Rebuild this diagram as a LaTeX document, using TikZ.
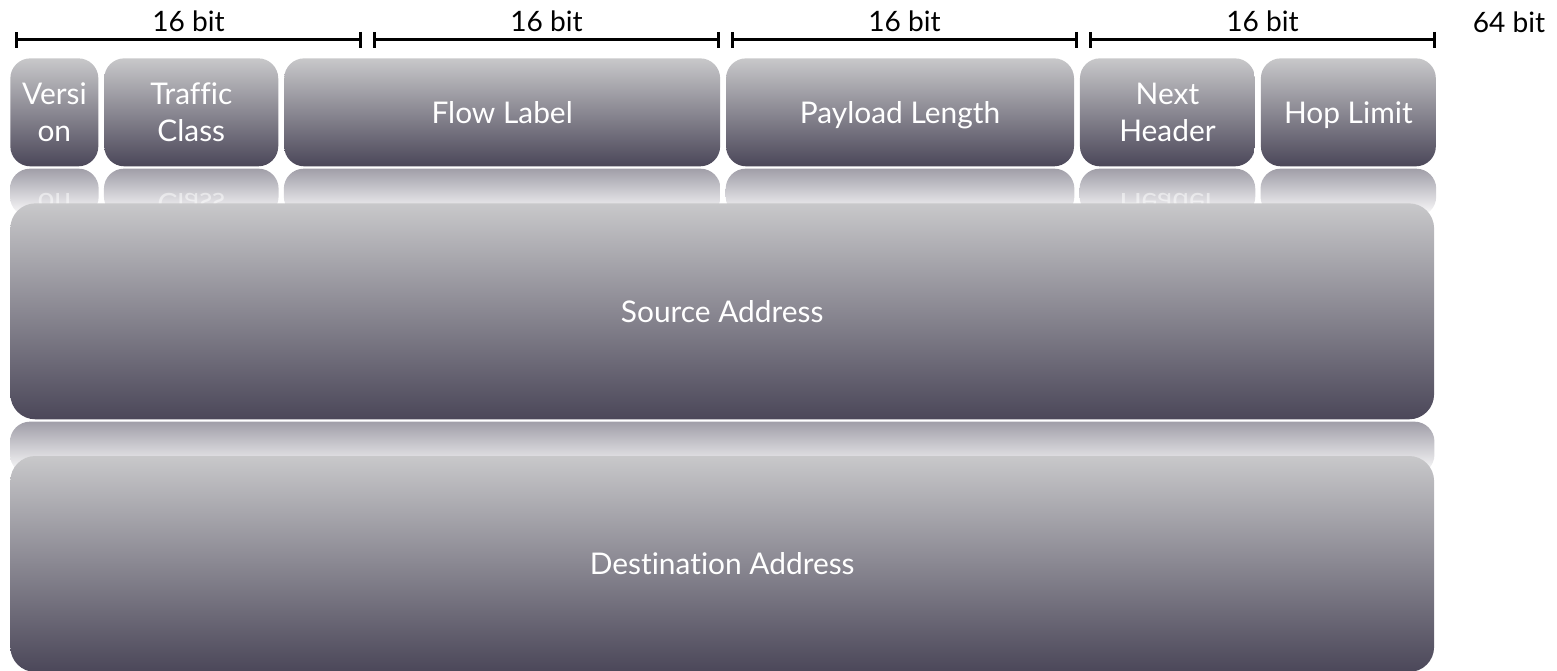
\documentclass[tikz,border=0pt]{standalone}
\usepackage{fontspec}
\setmainfont{Lato}[Ligatures=NoCommon]
\usetikzlibrary{positioning,arrows.meta}
\definecolor{fieldtop}{HTML}{C8C8CA}
\definecolor{fieldbot}{HTML}{4B4759}
\definecolor{refltop}{HTML}{A09EA8}

\begin{document}
\begin{tikzpicture}[
    x=0.02cm,y=-0.02cm,
    node distance=0.105cm,
    field/.style={rectangle,rounded corners=0.4cm,top color=fieldtop,bottom color=fieldbot,minimum height=2.16cm,inner sep=0pt,text=white,font=\fontsize{17}{21}\selectfont,align=center},
    refl/.style={rounded corners=0.4cm,top color=refltop,bottom color=white},
    mirror/.style={text=white,opacity=0.5,yscale=-1,transform shape,font=\fontsize{17}{21}\selectfont,align=center},
    ruler/.style={{Bar[width=0.32cm]}-{Bar[width=0.32cm]},line width=0.06cm},
    bits/.style={font=\fontsize{16}{18}\selectfont,inner sep=1pt}
]
\useasboundingbox (0,0) rectangle (1557,671);

% bit rulers
\coordinate (r0a) at (15,40);   \coordinate (r0b) at (362,40);
\coordinate (r1a) at (373,40);  \coordinate (r1b) at (720,40);
\coordinate (r2a) at (731,40);  \coordinate (r2b) at (1078,40);
\coordinate (r3a) at (1089,40); \coordinate (r3b) at (1436,40);
\draw[ruler] (r0a) -- node[bits,above=3pt] {16 bit} (r0b);
\draw[ruler] (r1a) -- node[bits,above=3pt] {16 bit} (r1b);
\draw[ruler] (r2a) -- node[bits,above=3pt] {16 bit} (r2b);
\draw[ruler] (r3a) -- node[bits,above=3pt] {16 bit} (r3b);
\node[bits,anchor=base] (total) at (1509,33) {64 bit};

% first header row
\node[field,anchor=north west,minimum width=1.76cm] (ver) at (10,58) {Versi\\on};
\node[field,right=of ver,minimum width=3.48cm] (tc) {Traffic\\Class};
\node[field,right=of tc,minimum width=8.72cm] (fl) {Flow Label};
\node[field,right=of fl,minimum width=6.96cm,text depth=0pt] (pl) {Payload Length};
\node[field,right=of pl,minimum width=3.5cm] (nh) {Next\\Header};
\node[field,right=of nh,minimum width=3.5cm,text depth=0pt] (hl) {Hop Limit};

% reflections
\shade[refl] ([yshift=-0.04cm]ver.south west) rectangle ([yshift=-1cm]ver.south east);
\shade[refl] ([yshift=-0.04cm]tc.south west) rectangle ([yshift=-1cm]tc.south east);
\shade[refl] ([yshift=-0.04cm]fl.south west) rectangle ([yshift=-1cm]fl.south east);
\shade[refl] ([yshift=-0.04cm]pl.south west) rectangle ([yshift=-1cm]pl.south east);
\shade[refl] ([yshift=-0.04cm]nh.south west) rectangle ([yshift=-1cm]nh.south east);
\shade[refl] ([yshift=-0.04cm]hl.south west) rectangle ([yshift=-1cm]hl.south east);
\node[mirror] (verm) at ([yshift=-2.2cm]ver.center) {Versi\\on};
\node[mirror] (tcm) at ([yshift=-2.2cm]tc.center) {Traffic\\Class};
\node[mirror] (nhm) at ([yshift=-2.2cm]nh.center) {Next\\Header};

% addresses
\node[field,anchor=north west,minimum width=28.48cm,minimum height=4.32cm,rounded corners=0.5cm] (src) at (10,203) {Source Address};
\shade[refl] ([yshift=-0.04cm]src.south west) rectangle ([yshift=-1.1cm]src.south east);
\node[field,below=0.72cm of src,minimum width=28.48cm,minimum height=4.32cm,rounded corners=0.5cm] (dst) {Destination Address};

\end{tikzpicture}
\end{document}
